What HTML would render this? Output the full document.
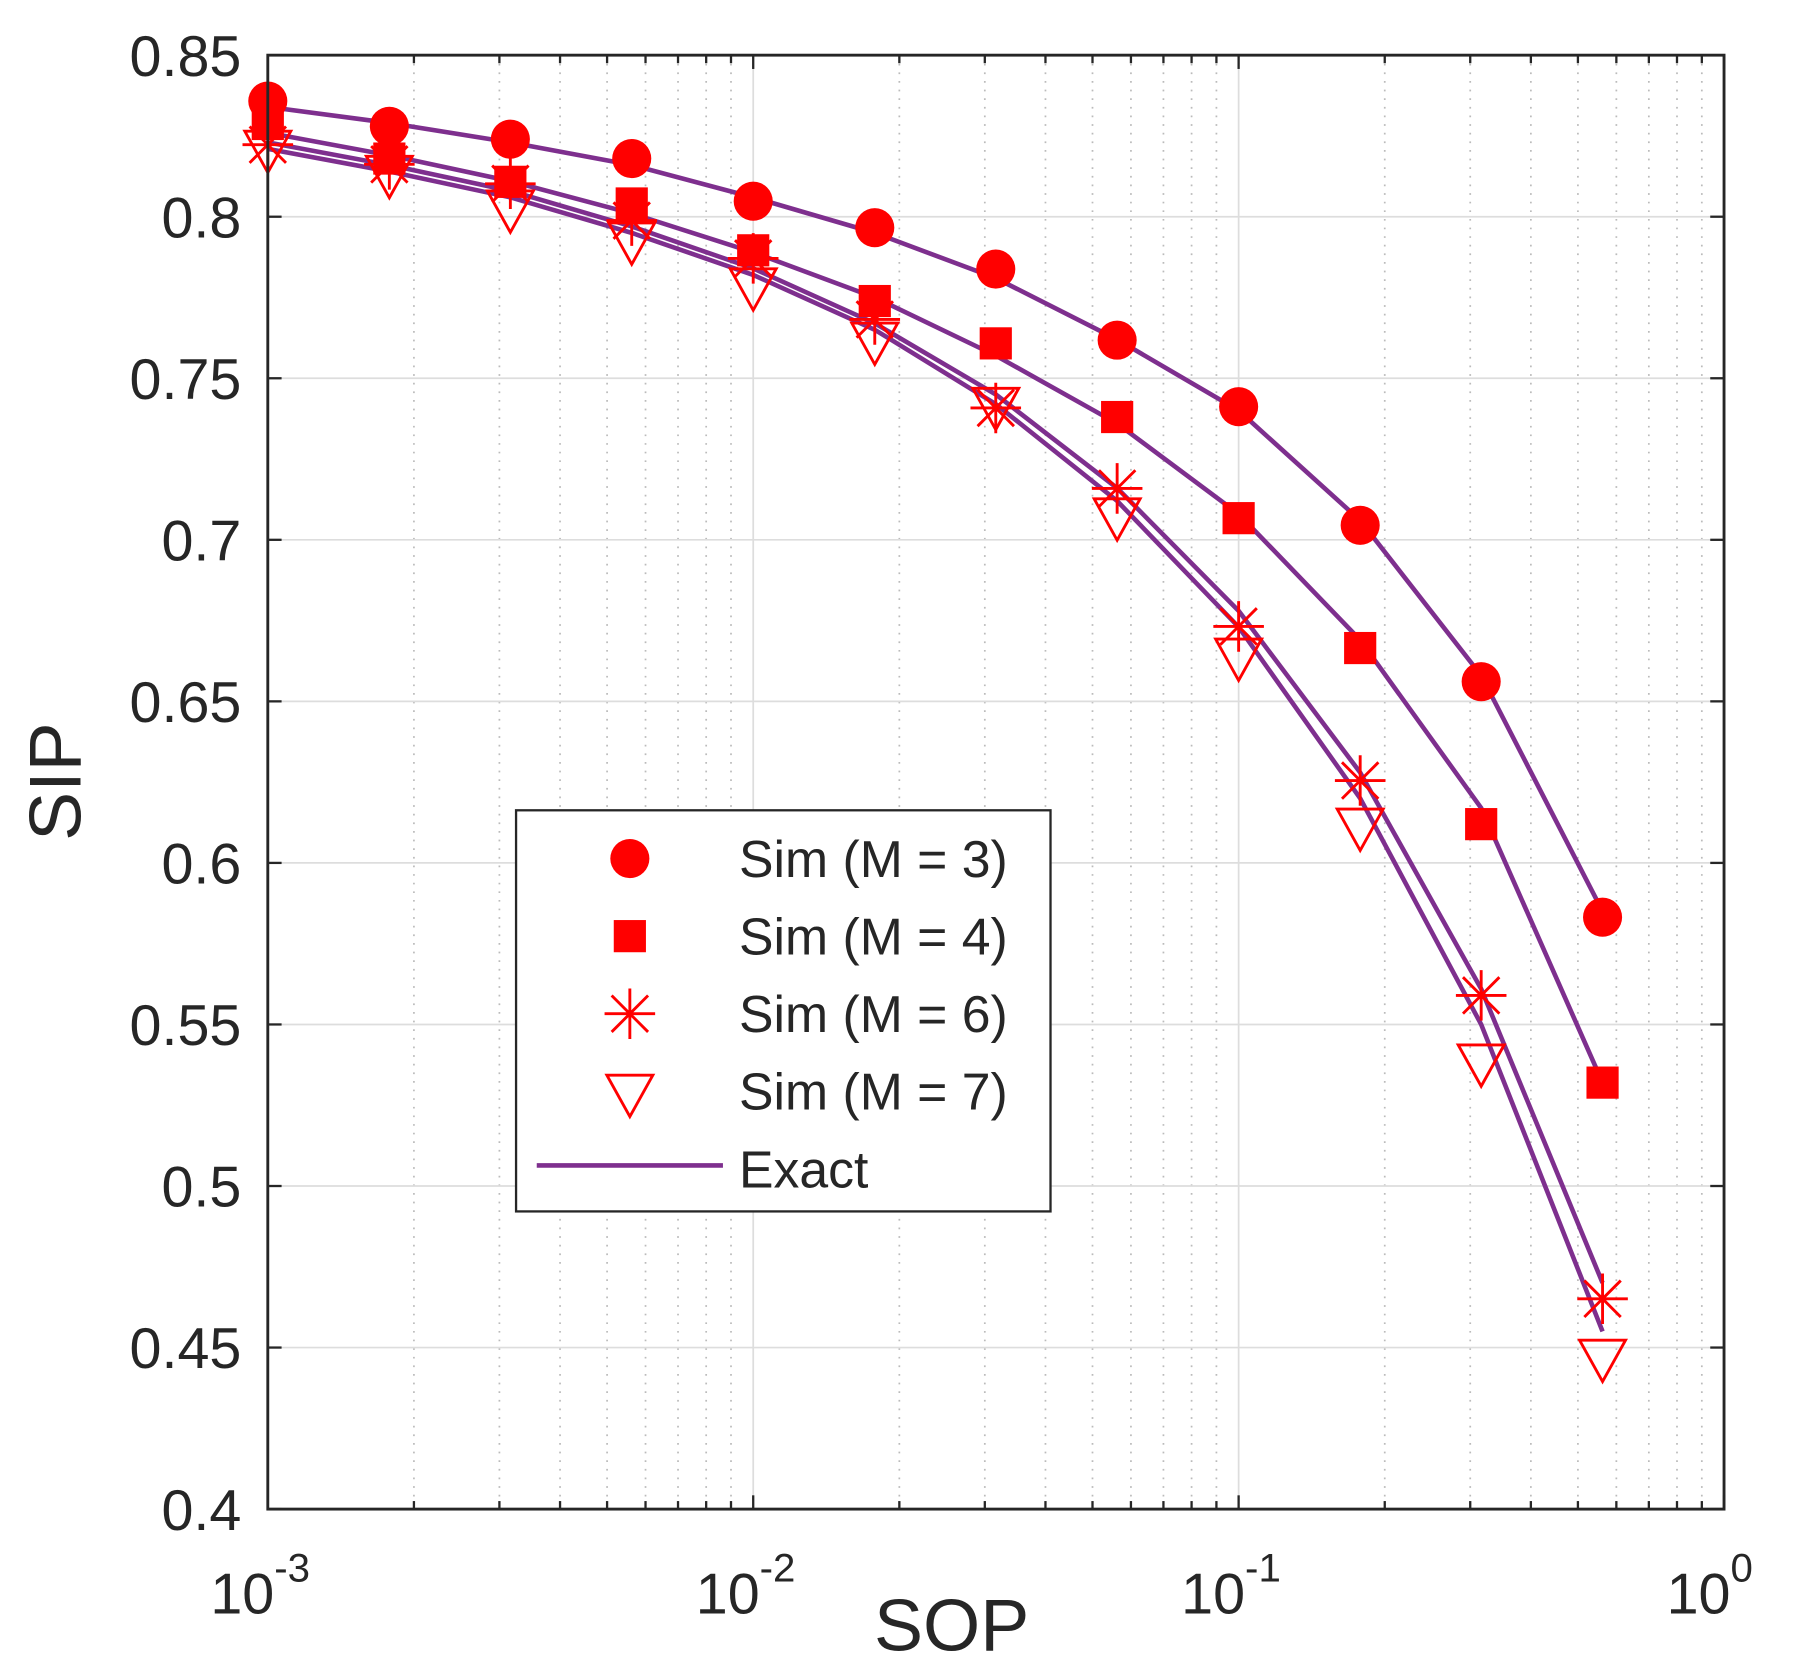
<!DOCTYPE html>
<html><head><meta charset="utf-8"><style>
html,body{margin:0;padding:0;background:#fff;}
svg{display:block;}
text{font-family:"Liberation Sans",Arial,sans-serif;fill:#262626;}
</style></head><body>
<svg id="chart" width="1793" height="1673" viewBox="0 0 1560 1455.6" preserveAspectRatio="none" xmlns="http://www.w3.org/2000/svg">
<g id="grid"></g>
<g id="lines"></g>
<g id="marks"></g>
<g id="axes"></g>
<g id="legend"></g>
</svg>
<script>
const xValues = [0.001, 0.00178, 0.00316, 0.00562, 0.01, 0.0178, 0.0316, 0.0562, 0.1, 0.178, 0.316, 0.562];
const simM3 = [0.8358, 0.828, 0.824, 0.818, 0.8048, 0.7966, 0.7838, 0.7618, 0.7412, 0.7045, 0.6561, 0.5832];
const simM4 = [0.8287, 0.818, 0.8108, 0.8041, 0.7896, 0.7739, 0.7608, 0.738, 0.7067, 0.6665, 0.612, 0.532];
const simM6 = [0.8223, 0.8162, 0.8102, 0.7988, 0.7871, 0.7682, 0.7408, 0.7159, 0.6732, 0.6255, 0.559, 0.4651];
const simM7 = [0.8215, 0.8137, 0.803, 0.7931, 0.7789, 0.7621, 0.7419, 0.7077, 0.6643, 0.6117, 0.5387, 0.4473];
const exactM3 = [0.834, 0.829, 0.823, 0.816, 0.806, 0.795, 0.781, 0.762, 0.740, 0.706, 0.658, 0.585];
const exactM4 = [0.826, 0.819, 0.811, 0.801, 0.789, 0.775, 0.757, 0.736, 0.708, 0.669, 0.617, 0.532];
const exactM6 = [0.823, 0.816, 0.808, 0.797, 0.784, 0.767, 0.745, 0.716, 0.678, 0.628, 0.561, 0.470];
const exactM7 = [0.821, 0.814, 0.806, 0.795, 0.782, 0.765, 0.742, 0.712, 0.673, 0.620, 0.550, 0.455];
const yTicks = [0.4, 0.45, 0.5, 0.55, 0.6, 0.65, 0.7, 0.75, 0.8, 0.85];
const yTickLabels = ["0.4","0.45","0.5","0.55","0.6","0.65","0.7","0.75","0.8","0.85"];
const xTickExps = [-3, -2, -1, 0];
const legendLabels = ["Sim (M = 3)","Sim (M = 4)","Sim (M = 6)","Sim (M = 7)","Exact"];

const NS = "http://www.w3.org/2000/svg";
const L = 233, R = 1500, T = 48, B = 1313;
function xs(v){ return L + (Math.log10(v) + 3) / 3 * (R - L); }
function ys(v){ return B - (v - 0.4) / 0.45 * (B - T); }
function mk(parent, tag, attrs){ const e = document.createElementNS(NS, tag); for (const k in attrs) e.setAttribute(k, attrs[k]); document.getElementById(parent).appendChild(e); return e; }

for (let d = -3; d < 0; d++) for (let m = 2; m <= 9; m++) {
  const x = xs(m * Math.pow(10, d));
  const g = mk("grid","line",{x1:x,x2:x,y1:T,y2:B,stroke:"#bbb","stroke-width":1.5,"stroke-dasharray":"1.5 6"});
  
  
  const t1 = mk("axes","line",{x1:x,x2:x,y1:B,y2:B-7,stroke:"#262626","stroke-width":2});
  
  
  const t2 = mk("axes","line",{x1:x,x2:x,y1:T,y2:T+7,stroke:"#262626","stroke-width":2});
  
  
}
xTickExps.forEach(e => {
  const x = xs(Math.pow(10, e));
  const g = mk("grid","line",{x1:x,x2:x,y1:T,y2:B,stroke:"#ddd","stroke-width":1.5});
  
  
  const t = mk("axes","text",{x:x-50,y:1404,"font-size":50});
  
  
  t.innerHTML = '10<tspan dy="-28" font-size="35">' + e + '</tspan>';
  [B, T].forEach(yy => {
    const tk = mk("axes","line",{x1:x,x2:x,y1:yy,y2:yy===B?B-12:T+12,stroke:"#262626","stroke-width":2});
    
    
  });
});
yTicks.forEach((v, i) => {
  const y = ys(v);
  const g = mk("grid","line",{x1:L,x2:R,y1:y,y2:y,stroke:"#ddd","stroke-width":1.5});
  
  
  const t = mk("axes","text",{x:210,y:y+18,"font-size":50,"text-anchor":"end"});
  
  
  t.textContent = yTickLabels[i];
  [[L, L+12],[R, R-12]].forEach(p => {
    const tk = mk("axes","line",{x1:p[0],x2:p[1],y1:y,y2:y,stroke:"#262626","stroke-width":2});
    
    
  });
});
const frame = mk("axes","rect",{x:L,y:T,width:R-L,height:B-T,fill:"none",stroke:"#262626","stroke-width":2.5});


const xl = mk("axes","text",{x:828,y:1436,"font-size":64,"text-anchor":"middle"});


xl.textContent = "SOP";
const yl = mk("axes","text",{x:0,y:0,"font-size":64,"text-anchor":"middle",transform:"translate(70,680) rotate(-90)"});


yl.textContent = "SIP";

[exactM3, exactM4, exactM6, exactM7].forEach((arr, k) => {
  const pts = arr.map((v, i) => xs(xValues[i]).toFixed(1) + "," + ys(v).toFixed(1)).join(" ");
  const p = mk("lines","polyline",{points:pts,fill:"none",stroke:"#7e2f8e","stroke-width":4});
  
  
});

function marker(type, cx, cy, parent){
  let e;
  if (type === 0) e = mk(parent,"circle",{cx:cx,cy:cy,r:17,fill:"#ff0000"});
  else if (type === 1) e = mk(parent,"rect",{x:cx-14,y:cy-14,width:28,height:28,fill:"#ff0000"});
  else if (type === 2) {
    const r = 22, d = r * 0.72;
    e = mk(parent,"path",{d:`M${cx-r},${cy}H${cx+r}M${cx},${cy-r}V${cy+r}M${cx-d},${cy-d}L${cx+d},${cy+d}M${cx-d},${cy+d}L${cx+d},${cy-d}`,stroke:"#ff0000","stroke-width":2.5,fill:"none"});
  } else e = mk(parent,"path",{d:`M${cx-20},${cy-14}L${cx+20},${cy-14}L${cx},${cy+22}Z`,stroke:"#ff0000","stroke-width":2.5,fill:"none"});
  return e;
}
[simM3, simM4, simM6, simM7].forEach((arr, k) => {
  arr.forEach((v, i) => {
    const m = marker(k, xs(xValues[i]), ys(v), "marks");
    
    
  });
});

const lb = mk("legend","rect",{x:449,y:705,width:465,height:349,fill:"#fff",stroke:"#262626","stroke-width":2});


legendLabels.forEach((lab, i) => {
  const y = 747 + i * 67.5;
  if (i < 4) {
    const m = marker(i, 548, y, "legend");
    
    
  } else {
    const ln = mk("legend","line",{x1:467,x2:629,y1:y-3,y2:y-3,stroke:"#7e2f8e","stroke-width":4});
    
    
  }
  const t = mk("legend","text",{x:643,y:y+16,"font-size":45,fill:"#000"});
  
  
  t.textContent = lab;
});
</script>
</body></html>
